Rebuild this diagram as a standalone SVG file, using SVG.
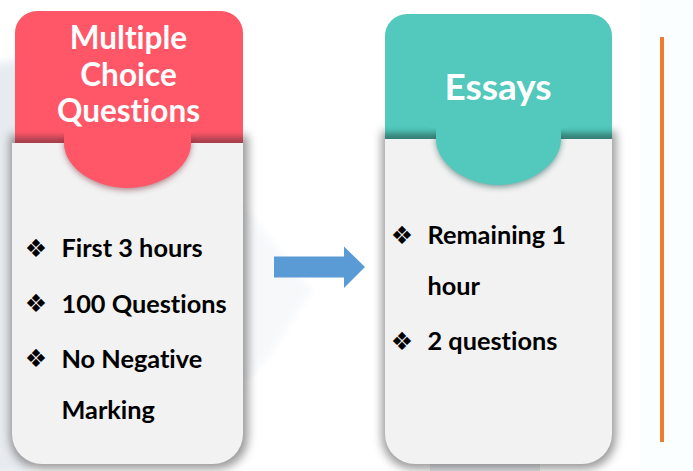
<svg xmlns="http://www.w3.org/2000/svg" width="693" height="471" viewBox="0 0 693 471">
<style>
.h{font-family:Lato,"Liberation Sans",sans-serif;font-weight:700;fill:#fff;text-anchor:middle;font-variant-ligatures:none}
.t{font-family:Lato,"Liberation Sans",sans-serif;font-weight:700;font-size:25.300px;fill:#000;font-variant-ligatures:none}
.b{font-family:"DejaVu Sans",sans-serif;font-size:25px;fill:#000;text-anchor:middle}
.body{fill:#f2f2f2}
</style>
<defs>
<filter id="s" x="-20%" y="-20%" width="140%" height="140%"><feGaussianBlur stdDeviation="5"/></filter>
<filter id="s2" x="-20%" y="-50%" width="140%" height="200%"><feGaussianBlur stdDeviation="3"/></filter>
<filter id="w" x="-20%" y="-20%" width="140%" height="140%"><feGaussianBlur stdDeviation="5"/></filter>
<clipPath id="c1"><path d="M15 33a22 22 0 0 1 22-22H221a22 22 0 0 1 22 22V143H15Z"/></clipPath>
<clipPath id="c2"><path d="M385 36a22 22 0 0 1 22-22H590a22 22 0 0 1 22 22V139H385Z"/></clipPath>
</defs>
<rect width="693" height="471" fill="#fff"/>
<rect x="640" y="0" width="53" height="471" fill="#fbfefe"/>
<g id="background">
<path d="M-10 65L30 58V475H-10Z" fill="#dfe4ea" opacity=".75" filter="url(#w)"/>
<path d="M243 205L312 290L268 358L243 385Z" fill="#f1f4f8" opacity=".6" filter="url(#s2)"/>
<path d="M430 464H540V471H430Z" fill="#dde0e4" opacity=".7"/>
</g>
<g id="card-mcq">
<path d="M9 132H247V434a32 32 0 0 1-32 32H41a32 32 0 0 1-32-32Z" fill="#444" opacity=".55" filter="url(#s)" transform="translate(1 3)"/>
<path d="M15 33a22 22 0 0 1 22-22H221a22 22 0 0 1 22 22V143H15Z" fill="#ff5768"/>
<g clip-path="url(#c1)"><rect x="0" y="137" width="260" height="14" fill="#7e3640" opacity=".7" filter="url(#s2)"/></g>
<path d="M12 143H243V434a30 30 0 0 1-30 30H42a30 30 0 0 1-30-30Z" class="body"/>
<path d="M64 140H191V143C191 170 160 190 127.500 190C95 190 64 170 64 143Z" fill="#7e3640" opacity=".6" filter="url(#s2)"/>
<path d="M58 125H197V132H191V143C191 168 160 188 127.500 188C95 188 64 168 64 143V132H58Z" fill="#ff5768"/>
<text class="h" font-size="31.500" x="128.500" y="49">Multiple</text>
<text class="h" font-size="31.500" x="128.500" y="86">Choice</text>
<text class="h" font-size="31.500" x="128.500" y="122">Questions</text>
<text class="b" x="36" y="257">❖</text><text class="t" x="61.500" y="257">First 3 hours</text>
<text class="b" x="36" y="312">❖</text><text class="t" x="61.500" y="313">100 Questions</text>
<text class="b" x="36" y="367">❖</text><text class="t" x="61.500" y="368">No Negative</text>
<text class="t" x="61.500" y="419">Marking</text>
</g>
<g id="card-essays">
<path d="M382 128H616V434a32 32 0 0 1-32 32H414a32 32 0 0 1-32-32Z" fill="#444" opacity=".55" filter="url(#s)" transform="translate(0 3)"/>
<path d="M385 36a22 22 0 0 1 22-22H590a22 22 0 0 1 22 22V139H385Z" fill="#52c9bc"/>
<g clip-path="url(#c2)"><rect x="370" y="133" width="260" height="14" fill="#2c5f5a" opacity=".7" filter="url(#s2)"/></g>
<path d="M385 139H612V434a30 30 0 0 1-30 30H415a30 30 0 0 1-30-30Z" class="body"/>
<path d="M436 136H561V139C561 167 530 187 498.500 187C467 187 436 167 436 139Z" fill="#2c5f5a" opacity=".6" filter="url(#s2)"/>
<path d="M430 121H567V128H561V139C561 164 530 185 498.500 185C467 185 436 164 436 139V128H430Z" fill="#52c9bc"/>
<text class="h" font-size="37" x="498" y="100">Essays</text>
<text class="b" x="402" y="244">❖</text><text class="t" x="427.500" y="244">Remaining 1</text>
<text class="t" x="427.500" y="295">hour</text>
<text class="b" x="402" y="350">❖</text><text class="t" x="427.500" y="350">2 questions</text>
</g>
<g id="connectors">
<path d="M274 256.500H344V246.500L365 267L344 288V277.500H274Z" fill="#5b9bd5"/>
</g>
<rect id="divider" x="660" y="37" width="4" height="405" fill="#ed7d31"/>
</svg>
